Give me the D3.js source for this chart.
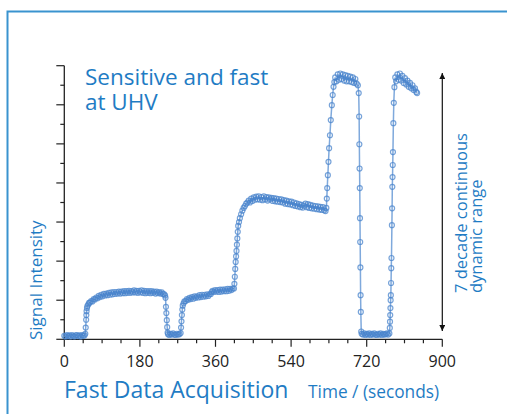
<!DOCTYPE html>
<html>
<head>
<meta charset="utf-8">
<script src="https://cdn.jsdelivr.net/npm/d3@7"></script>
<style>
  body { margin: 0; background: #fff; }
  svg { display: block; }
</style>
</head>
<body>
<svg id="chart" width="507" height="414"></svg>
<script>
// time in seconds, signal in decades (log10 of intensity)
const baseline = [[0,.09],[3,.07],[6,.11],[9,.08],[12,.10],[15,.07],[18,.11],[21,.09],[24,.07],[27,.10],[30,.11],[33,.08],[36,.10],[39,.07],[42,.11],[45,.09],[48,.10]];

const stepOne = [[50,.14],[51,.3],[52,.5],[52.5,.62],[53,.72],[54,.8],[55,.85],[57,.89],[59,.93],[61,.94],[64,.98],[67,.97],[70,1.03],[73,1.02],[76,1.07],[79,1.05],[82,1.11],[85,1.08],[88,1.14],[91,1.10],[94,1.16],[97,1.12],[100,1.17],[103,1.13],[106,1.19],[109,1.14],[112,1.20],[115,1.15],[118,1.21],[121,1.16],[124,1.21],[127,1.17],[130,1.22],[133,1.17],[136,1.22],[139,1.18],[142,1.23],[145,1.18],[148,1.23],[151,1.19],[154,1.24],[157,1.19],[160,1.23],[163,1.20],[166,1.25],[169,1.20],[172,1.24],[175,1.19],[178,1.24],[181,1.20],[184,1.25],[187,1.19],[190,1.24],[193,1.18],[196,1.23],[199,1.19],[202,1.23],[205,1.18],[208,1.23],[211,1.19],[214,1.22],[217,1.17],[220,1.22],[223,1.18],[226,1.21],[229,1.17],[232,1.20],[235,1.16],[238,1.15],[240,1.12]];

const dropOne = [[241,1.06],[242,.83],[243,.67],[244,.49],[245,.31],[246,.17],[247,.13],[250,.11],[253,.14],[256,.12],[259,.15],[262,.12],[265,.11],[268,.14],[271,.12],[274,.13],[277,.16]];

const stepTwo = [[278,.3],[279,.46],[280,.62],[281,.76],[282,.86],[284,.92],[286,.97],[289,.98],[292,1.03],[295,1.01],[298,1.06],[301,1.03],[304,1.08],[307,1.04],[310,1.10],[313,1.06],[316,1.10],[319,1.07],[322,1.13],[325,1.08],[328,1.14],[331,1.09],[334,1.14],[337,1.10],[340,1.15],[343,1.11],[346,1.15],[349,1.16],[351,1.21],[353,1.24],[356,1.21],[359,1.26],[362,1.22],[365,1.26],[368,1.21],[371,1.27],[374,1.22],[377,1.27],[380,1.23],[383,1.28],[386,1.23],[389,1.29],[392,1.24],[395,1.29],[398,1.26],[401,1.30],[404,1.30]];

const stepThree = [[405,1.42],[406,1.6],[407,1.8],[408,1.98],[409,2.12],[410,2.26],[411,2.42],[412,2.58],[413,2.75],[414,2.9],[416,3.0],[418,3.1],[421,3.2],[424,3.29],[427,3.36],[430,3.41],[433,3.47],[436,3.5],[439,3.55],[442,3.50],[445,3.60],[448,3.54],[451,3.63],[454,3.57],[457,3.65],[460,3.58],[463,3.66],[466,3.57],[469,3.64],[472,3.56],[475,3.66],[478,3.58],[481,3.64],[484,3.55],[487,3.63],[490,3.58],[493,3.62],[496,3.54],[499,3.61],[502,3.53],[505,3.60],[508,3.52],[511,3.59],[514,3.51],[517,3.58],[520,3.50],[523,3.56],[526,3.47],[529,3.55],[532,3.46],[535,3.53],[538,3.45],[541,3.52],[544,3.43],[547,3.50],[550,3.41],[553,3.48],[556,3.40],[559,3.46],[562,3.38],[565,3.44],[568,3.37],[571,3.42],[574,3.47],[577,3.38],[580,3.46],[583,3.36],[586,3.44],[589,3.35],[592,3.42],[595,3.34],[598,3.41],[601,3.33],[604,3.40],[607,3.32],[610,3.39],[613,3.31],[616,3.38],[619,3.30],[622,3.28],[624,3.36]];

const peakOne = [[625,3.6],[626,3.87],[627.5,4.2],[629,4.54],[630.5,4.89],[632.5,5.22],[634.5,5.61],[637,5.99],[639,6.25],[641,6.46],[643,6.58],[645,6.7],[648,6.6],[651,6.78],[654,6.64],[657,6.8],[660,6.66],[663,6.78],[666,6.62],[669,6.76],[672,6.6],[675,6.74],[678,6.6],[681,6.72],[684,6.58],[687,6.7],[690,6.56],[693,6.66],[696,6.54],[699,6.5],[701,6.3]];

const dropTwo = [[702,5.7],[702.5,4.99],[703,4.37],[703.5,3.87],[704,3.1],[704.5,2.49],[705,1.84],[705.5,1.13],[706,.7],[707,.2],[708,.14],[711,.12],[714,.15],[717,.11],[720,.14],[723,.12],[726,.15],[729,.11],[732,.14],[735,.12],[738,.15],[741,.12],[744,.11],[747,.14],[750,.12],[753,.15],[756,.11],[759,.14],[762,.12],[765,.13],[768,.15],[771,.12],[774,.15]];

const peakTwo = [[775,.29],[775.5,.45],[776,.62],[776.5,.8],[777,1.0],[777.5,1.13],[778,1.44],[778.5,1.82],[779,2.08],[780,2.92],[780.5,3.35],[781,3.9],[781.5,4.15],[782,4.46],[782.5,4.79],[783.5,5.53],[784.5,6.05],[786,6.45],[788,6.7],[790,6.6],[793,6.78],[796,6.64],[799,6.8],[802,6.62],[805,6.74],[808,6.56],[811,6.68],[814,6.52],[817,6.62],[820,6.46],[823,6.56],[826,6.42],[829,6.5],[832,6.38],[835,6.42],[838,6.33],[840,6.3]];

const trace = [].concat(baseline, stepOne, dropOne, stepTwo, stepThree, peakOne, dropTwo, peakTwo);

const xTicks = [0, 180, 360, 540, 720, 900];
const xMinorTicks = d3.range(0, 901, 45);
const yDecades = d3.range(0, 7.01, 0.5);

const svg = d3.select("#chart");
const blue = "#1f7cc4";
const font = "'Open Sans', sans-serif";

const x = d3.scaleLinear().domain([0, 900]).range([64.3, 442.3]);
const y = d3.scaleLinear().domain([0, 7]).range([339.3, 65.7]);

// frame lines (top and left)
svg.append("path")
  .attr("d", "M7.5,414 V11.5 H507")
  .attr("fill", "none")
  .attr("stroke", "#3a93cf")
  .attr("stroke-width", 2);

// x axis with major and minor ticks
const xAxisG = svg.append("g").attr("transform", `translate(0,${y(0)})`);
xAxisG.append("line")
  .attr("x1", x(0)).attr("x2", x(900))
  .attr("stroke", "#222").attr("stroke-width", 1.3);
xAxisG.selectAll(".xminor")
  .data(xMinorTicks)
  .join("line")
  .attr("x1", d => x(d)).attr("x2", d => x(d))
  .attr("y1", 0).attr("y2", d => xTicks.includes(d) ? 7.5 : 4)
  .attr("stroke", "#222").attr("stroke-width", 1.2);
xAxisG.selectAll(".xlabel")
  .data(xTicks)
  .join("text")
  .attr("x", d => x(d))
  .attr("y", 27.5)
  .attr("text-anchor", "middle")
  .attr("fill", "#222")
  .attr("font-size", "16px")
  .attr("font-family", font)
  .text(d => d);

// y axis: one major tick per decade, minor ticks between
const yAxisG = svg.append("g").attr("transform", `translate(${x(0)},0)`);
yAxisG.append("line")
  .attr("y1", y(0)).attr("y2", y(7))
  .attr("stroke", "#222").attr("stroke-width", 1.3);
yAxisG.selectAll(".ytick")
  .data(yDecades)
  .join("line")
  .attr("y1", d => y(d)).attr("y2", d => y(d))
  .attr("x1", 0).attr("x2", d => d % 1 === 0 ? -8 : -4)
  .attr("stroke", "#222").attr("stroke-width", 1.2);

// signal trace
const line = d3.line().x(d => x(d[0])).y(d => y(d[1]));
svg.append("path")
  .attr("d", line(trace))
  .attr("fill", "none")
  .attr("stroke", "#7fa9dc")
  .attr("stroke-width", 1.5);

svg.append("g")
  .selectAll("circle")
  .data(trace)
  .join("circle")
  .attr("cx", d => x(d[0]))
  .attr("cy", d => y(d[1]))
  .attr("r", 2.5)
  .attr("fill", "none")
  .attr("stroke", "#4a84cc")
  .attr("stroke-opacity", 0.75)
  .attr("stroke-width", 1.2);

// dynamic range arrow
const defs = svg.append("defs");
["start", "end"].forEach(k => {
  defs.append("marker")
    .attr("id", "arrow-" + k)
    .attr("viewBox", "0 0 10 10")
    .attr("refX", 5).attr("refY", k === "end" ? 10 : 0)
    .attr("markerWidth", 6).attr("markerHeight", 9)
    .attr("markerUnits", "userSpaceOnUse")
    .attr("orient", "0")
    .append("path")
    .attr("d", k === "end" ? "M0,0 L10,0 L5,10 Z" : "M0,10 L10,10 L5,0 Z")
    .attr("fill", "#111");
});
svg.append("line")
  .attr("x1", x(900)).attr("x2", x(900))
  .attr("y1", 73).attr("y2", 331)
  .attr("stroke", "#111")
  .attr("stroke-width", 1.2)
  .attr("marker-start", "url(#arrow-start)")
  .attr("marker-end", "url(#arrow-end)");

const rangeText = svg.append("text")
  .attr("transform", "translate(467,293) rotate(-90)")
  .attr("fill", blue)
  .attr("font-size", "16.5px")
  .attr("font-family", font);
rangeText.append("tspan").attr("x", 0).attr("y", 0).text("7 decade continuous");
rangeText.append("tspan").attr("x", 0).attr("y", 15).text("dynamic range");

// titles and axis labels
svg.append("text")
  .attr("x", 85).attr("y", 85)
  .attr("fill", blue)
  .attr("font-size", "22.5px")
  .attr("font-family", font)
  .text("Sensitive and fast");
svg.append("text")
  .attr("x", 85).attr("y", 110)
  .attr("fill", blue)
  .attr("font-size", "22.5px")
  .attr("font-family", font)
  .text("at UHV");

svg.append("text")
  .attr("transform", "translate(42,340) rotate(-90)")
  .attr("fill", blue)
  .attr("font-size", "17px")
  .attr("font-family", font)
  .text("Signal Intensity");

svg.append("text")
  .attr("x", 64)
  .attr("y", 398)
  .attr("fill", blue)
  .attr("font-size", "23px")
  .attr("font-family", font)
  .text("Fast Data Acquisition");

svg.append("text")
  .attr("x", 308)
  .attr("y", 398)
  .attr("fill", blue)
  .attr("font-size", "17.3px")
  .attr("font-family", font)
  .text("Time / (seconds)");
</script>
</body>
</html>
